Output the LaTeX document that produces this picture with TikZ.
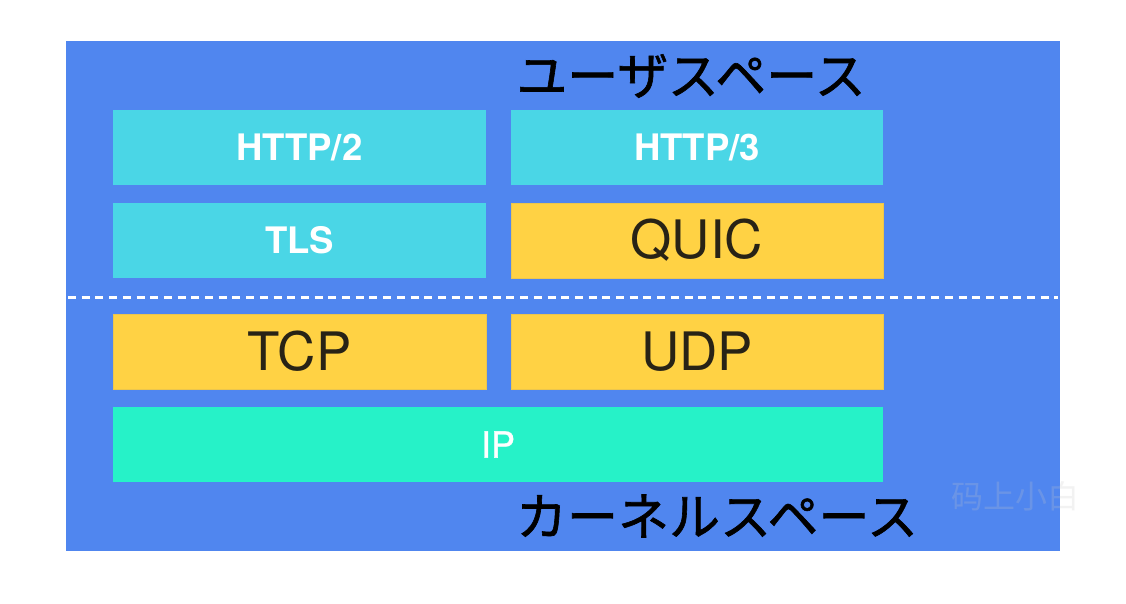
\documentclass[tikz,border=0pt]{standalone}
\usepackage{fontspec}
\setmainfont{TeX Gyre Heros}
\newfontfamily\jpfont[FakeBold=1.2]{Noto Sans CJK JP}
\newfontfamily\ipfont[FakeBold=0.8]{TeX Gyre Heros}
\newfontfamily\scfont{Noto Sans CJK SC}
\definecolor{bgblue}{RGB}{80,134,239}
\definecolor{cyanbox}{RGB}{74,214,230}
\definecolor{yellowbox}{RGB}{255,210,68}
\definecolor{greenbox}{RGB}{38,242,200}
\definecolor{darktext}{RGB}{40,35,22}
\definecolor{wmgray}{RGB}{200,200,200}
\begin{document}
\begin{tikzpicture}[x=1pt,y=-1pt,
  layer/.style={rectangle,inner sep=0pt,outer sep=0pt,minimum height=75pt},
  cyanlayer/.style={layer,fill=cyanbox,text=white,font=\fontsize{36.5}{40}\selectfont\bfseries},
  yellowlayer/.style={layer,fill=yellowbox,draw=yellowbox!85!gray,line width=0.6pt,text=darktext,font=\fontsize{53}{58}\selectfont},
  greenlayer/.style={layer,fill=greenbox,text=white,font=\ipfont\fontsize{36}{40}\selectfont},
  spacelabel/.style={inner sep=0pt,text=black,font=\jpfont\fontsize{51}{56}\selectfont},
  divider/.style={white,line width=3pt,dash pattern=on 8pt off 5.7pt}
]
\useasboundingbox (0,0) rectangle (1126,604);
\fill[white] (0,0) rectangle (1126,604);
\fill[bgblue] (66,41) rectangle (1060,551);

\node[cyanlayer,minimum width=373pt] (http2) at (299.5,147.5) {HTTP/2};
\node[cyanlayer,minimum width=372pt] (http3) at (697,147.5) {HTTP/3};
\node[cyanlayer,minimum width=373pt] (tls) at (299.5,240.5) {TLS};
\node[yellowlayer,minimum width=372pt] (quic) at (697,240.5) {QUIC};
\node[yellowlayer,minimum width=373pt] (tcp) at (299.5,351.5) {TCP};
\node[yellowlayer,minimum width=372pt] (udp) at (697,351.5) {UDP};
\node[greenlayer,minimum width=770pt] (ip) at (498,444.5) {IP};

\coordinate (dl) at (68,297);
\coordinate (dr) at (1058,297);
\draw[divider] (dl) -- (dr);

\node[spacelabel] (user) at (691,76) {ユーザスペース};
\node[spacelabel] (kernel) at (717,516) {カーネルスペース};

\node[inner sep=0pt,text=wmgray,opacity=0.22,font=\scfont\fontsize{32}{36}\selectfont] (wm) at (1015,496) {码上小白};
\end{tikzpicture}
\end{document}
